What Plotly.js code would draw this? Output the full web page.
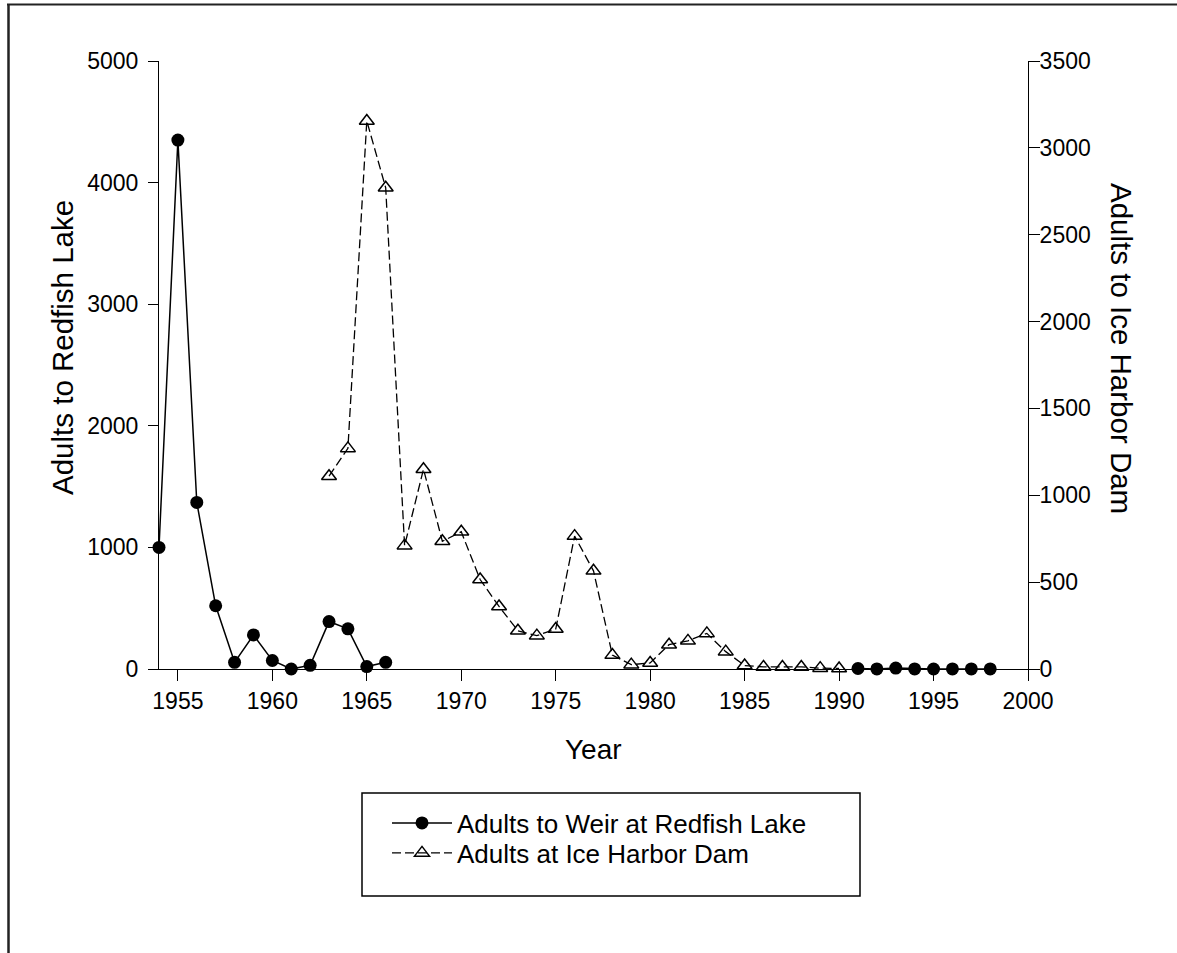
<!DOCTYPE html>
<html>
<head>
<meta charset="utf-8">
<script src="https://cdn.plot.ly/plotly-3.0.1.min.js"></script>
<style>
  html, body { margin: 0; padding: 0; background: #ffffff; }
  #chart { width: 1177px; height: 953px; }
</style>
</head>
<body>
<div id="chart"></div>
<script>
// ---------------- data ----------------
const years = [1954, 1955, 1956, 1957, 1958, 1959, 1960, 1961, 1962, 1963,
               1964, 1965, 1966, 1967, 1968, 1969, 1970, 1971, 1972, 1973,
               1974, 1975, 1976, 1977, 1978, 1979, 1980, 1981, 1982, 1983,
               1984, 1985, 1986, 1987, 1988, 1989, 1990, 1991, 1992, 1993,
               1994, 1995, 1996, 1997, 1998];

// Adults to Weir at Redfish Lake (left axis)
const redfishLake = [1000, 4350, 1370, 520, 55, 280, 70, 0, 30, 390,
                     330, 20, 55, null, null, null, null, null, null, null,
                     null, null, null, null, null, null, null, null, null, null,
                     null, null, null, null, null, null, null, 4, 1, 8,
                     1, 0, 1, 1, 1];

// Adults at Ice Harbor Dam (right axis)
const iceHarborDam = [null, null, null, null, null, null, null, null, null, 1110,
                      1270, 3155, 2770, 710, 1150, 735, 790, 515, 360, 220,
                      192, 230, 765, 565, 80, 25, 35, 140, 162, 205,
                      100, 20, 12, 12, 12, 5, 3, null, null, null,
                      null, null, null, null, null];

const seriesNames = ['Adults to Weir at Redfish Lake', 'Adults at Ice Harbor Dam'];
const xTitle = 'Year';
const yLeftTitle = 'Adults to Redfish Lake';
const yRightTitle = 'Adults to Ice Harbor Dam';

// ---------------- geometry helpers (pixel -> paper) ----------------
const PL = 159, PR = 1028, PT = 61, PB = 669;
const px = x => (x - PL) / (PR - PL);
const py = y => (PB - y) / (PB - PT);

const FONT = 'Liberation Sans, Arial, sans-serif';

const traces = [
  {
    x: years, y: redfishLake, name: seriesNames[0],
    type: 'scatter', mode: 'lines+markers', connectgaps: false, cliponaxis: false,
    line: { color: '#000000', width: 1.5 },
    marker: { symbol: 'circle', size: 13, color: '#000000' },
    legend: 'legend'
  },
  {
    x: years, y: iceHarborDam, name: seriesNames[1], yaxis: 'y2',
    type: 'scatter', mode: 'lines+markers', connectgaps: false, cliponaxis: false,
    line: { color: '#000000', width: 1.3, dash: '9px,4px' },
    marker: { symbol: 'triangle-up-open', size: 13, color: '#000000',
              line: { color: '#000000', width: 1.5 } },
    legend: 'legend2'
  }
];

const axisCommon = {
  showgrid: false, zeroline: false, showline: true,
  linecolor: '#000000', linewidth: 1,
  ticks: 'outside', tickcolor: '#000000', tickwidth: 1,
  tickfont: { family: FONT, size: 23, color: '#000000' },
  fixedrange: true
};

const layout = {
  width: 1177, height: 953,
  paper_bgcolor: '#ffffff', plot_bgcolor: '#ffffff',
  font: { family: FONT, color: '#000000' },
  margin: { l: PL, r: 1177 - PR, t: PT, b: 953 - PB, pad: 0 },
  xaxis: Object.assign({}, axisCommon, {
    range: [1954, 2000], tickmode: 'linear', tick0: 1955, dtick: 5, ticklen: 11
  }),
  yaxis: Object.assign({}, axisCommon, {
    range: [0, 5000], tickmode: 'linear', tick0: 0, dtick: 1000, ticklen: 10,
    ticklabelstandoff: 5
  }),
  yaxis2: Object.assign({}, axisCommon, {
    range: [0, 3500], tickmode: 'linear', tick0: 0, dtick: 500, ticklen: 11,
    overlaying: 'y', side: 'right', ticklabelstandoff: -5
  }),
  showlegend: true,
  legend: {
    x: px(387), y: py(823), xanchor: 'left', yanchor: 'middle',
    bgcolor: 'rgba(0,0,0,0)', borderwidth: 0, itemwidth: 60,
    font: { family: FONT, size: 26, color: '#000000' }
  },
  legend2: {
    x: px(387), y: py(853), xanchor: 'left', yanchor: 'middle',
    bgcolor: 'rgba(0,0,0,0)', borderwidth: 0, itemwidth: 60,
    font: { family: FONT, size: 26, color: '#000000' }
  },
  annotations: [
    { text: xTitle, xref: 'paper', yref: 'paper', x: px(593.5), y: py(749),
      xanchor: 'center', yanchor: 'middle', showarrow: false,
      font: { family: FONT, size: 28, color: '#000000' } },
    { text: yLeftTitle, xref: 'paper', yref: 'paper', x: px(62), y: py(348),
      xanchor: 'center', yanchor: 'middle', showarrow: false, textangle: -90,
      font: { family: FONT, size: 29.5, color: '#000000' } },
    { text: yRightTitle, xref: 'paper', yref: 'paper', x: px(1122), y: py(348),
      xanchor: 'center', yanchor: 'middle', showarrow: false, textangle: 90,
      font: { family: FONT, size: 29.5, color: '#000000' } }
  ],
  shapes: [
    // outer frame (top and left edges)
    { type: 'line', xref: 'paper', yref: 'paper', x0: px(7), x1: px(1177), y0: py(4.5), y1: py(4.5),
      line: { color: '#222222', width: 2 } },
    { type: 'line', xref: 'paper', yref: 'paper', x0: px(8.5), x1: px(8.5), y0: py(4), y1: py(953),
      line: { color: '#222222', width: 2.5 } },
    // legend box
    { type: 'rect', xref: 'paper', yref: 'paper', x0: px(362), x1: px(860), y0: py(793), y1: py(896),
      line: { color: '#000000', width: 1.5 }, fillcolor: 'rgba(0,0,0,0)' }
  ]
};

Plotly.newPlot('chart', traces, layout, { displayModeBar: false, staticPlot: true });
</script>
</body>
</html>
